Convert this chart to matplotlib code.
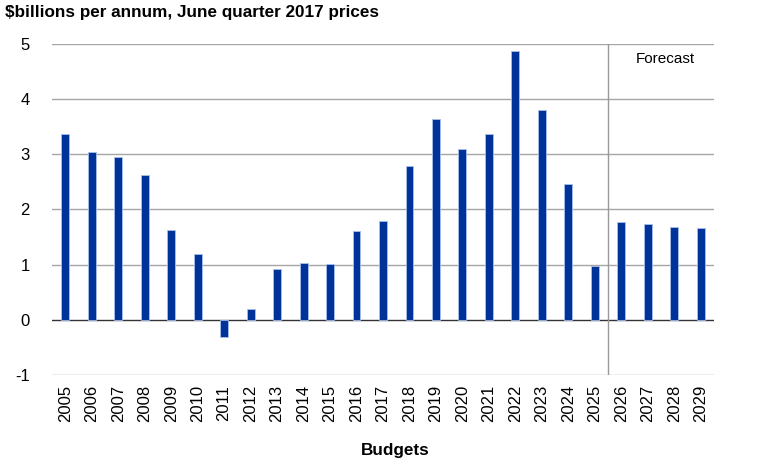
import numpy as np
import matplotlib.pyplot as plt

plt.rcParams["font.family"] = ["Liberation Sans", "DejaVu Sans"]
plt.rcParams["axes.unicode_minus"] = False

years = [str(y) for y in range(2005, 2030)]
values = [3.37, 3.04, 2.95, 2.62, 1.62, 1.19, -0.31, 0.19, 0.93, 1.03,
          1.02, 1.61, 1.79, 2.78, 3.64, 3.09, 3.36, 4.88, 3.80, 2.47,
          0.98, 1.77, 1.73, 1.69, 1.66]
forecast_start = "2026"

BLUE = "#003399"
x = np.arange(len(years))

fig = plt.figure(figsize=(7.6, 4.62), dpi=100)
ax = fig.add_axes([0.0684, 0.1883, 0.8711, 0.7165])

ax.bar(x, values, width=0.3, color=BLUE, edgecolor="#a9c0ea", linewidth=0.6, zorder=3)

ax.set_ylim(-1, 5)
ax.set_xlim(-0.5, len(years) - 0.5)
ax.set_yticks(range(-1, 6))
ax.set_xticks(x)
ax.set_xticklabels(years, rotation=90)
ax.tick_params(length=0, labelsize=12, pad=7)
ax.tick_params(axis="y", pad=16)

for v in range(-1, 6):
    if v == 0:
        ax.axhline(v, color="#333333", lw=1.0, zorder=2)
    else:
        ax.axhline(v, color="#a6a6a6", lw=1.0, zorder=1)

for s in ax.spines.values():
    s.set_visible(False)

fx = years.index(forecast_start) - 0.5
ax.axvline(fx, color="#999999", lw=1.0, zorder=2)
ax.text(fx + 1.05, 4.72, "Forecast", fontsize=11, va="center", ha="left")

fig.text(0.007, 0.972, "$billions per annum, June quarter 2017 prices",
         fontsize=12.3, fontweight="bold", va="center", ha="left")
fig.text(0.52, 0.025, "Budgets", fontsize=12.3, fontweight="bold", va="center", ha="center")

fig.savefig("out.png", dpi=100)
